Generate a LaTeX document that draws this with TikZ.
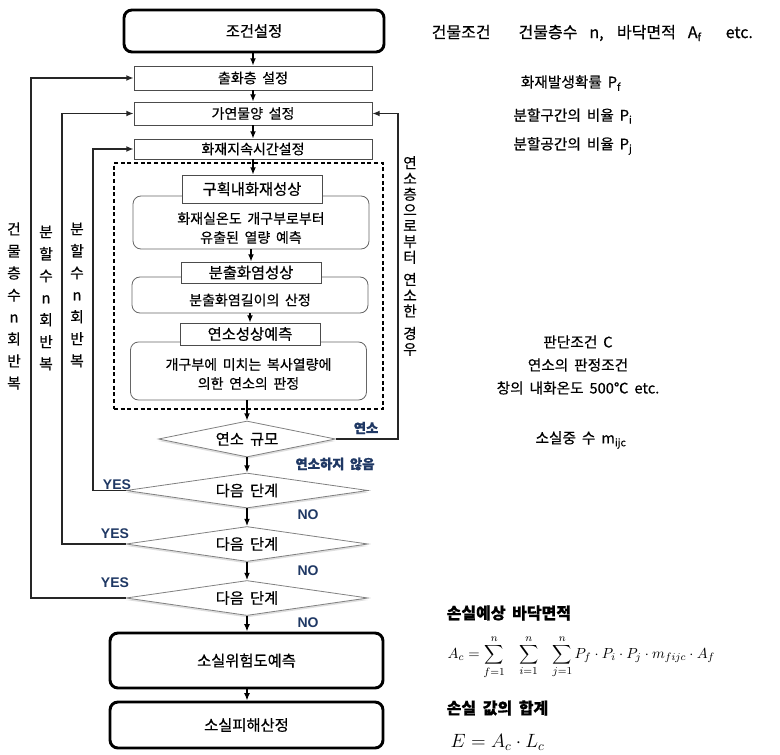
\documentclass[tikz,border=0pt]{standalone}
\usepackage[no-math]{fontspec}
\setmainfont{Noto Sans CJK KR}[WordSpace=1.8,FakeBold=0.5]
\newfontfamily\arialf{Liberation Sans}
\usetikzlibrary{arrows.meta,shapes.geometric,shadows}
\definecolor{navy}{RGB}{31,56,100}
\begin{document}
\begin{tikzpicture}[x=0.75pt,y=-0.75pt,
  arr/.style={line width=1.1pt,-{Latex[length=5.5pt,width=4.5pt]}},
  fb/.style={line width=1.3pt,draw=black!85},
  bigbox/.style={draw,line width=2.2pt,rounded corners=6pt,fill=white,inner sep=0pt,font=\fontsize{11.5}{13}\selectfont},
  stepbox/.style={draw=black!70,line width=0.6pt,fill=white,inner sep=0pt,minimum width=178.5pt,
     drop shadow={shadow xshift=1pt,shadow yshift=-1pt,fill=black!30},font=\fontsize{10.5}{12}\selectfont},
  tagbox/.style={draw=black!70,line width=0.6pt,fill=white,inner sep=0pt,minimum width=105pt,
     drop shadow={shadow xshift=1pt,shadow yshift=-1pt,fill=black!30},font=\fontsize{11.5}{13}\selectfont},
  softbox/.style={draw=black!60,line width=0.6pt,rounded corners=6pt,fill=white,inner sep=0pt,minimum width=177pt},
  intext/.style={align=center,font=\fontsize{10.5}{14.25}\selectfont},
  dia/.style={diamond,aspect=5,draw=black!50,line width=0.6pt,fill=white,inner sep=0pt,
     drop shadow={shadow xshift=0pt,shadow yshift=-1.5pt,fill=black!25},font=\fontsize{11.5}{13}\selectfont},
  lbl/.style={text=navy,font=\arialf\bfseries\fontsize{10.5}{12}\selectfont},
  klbl/.style={text=navy,font=\bfseries\fontsize{10}{12}\selectfont},
  vtext/.style={align=center,font=\fontsize{11}{16.5}\selectfont},
  rtext/.style={font=\fontsize{11}{13}\selectfont},
  rhead/.style={anchor=west,font=\bfseries\fontsize{12}{14}\selectfont}
]
\useasboundingbox (0,0) rectangle (780,755);

% top
\node[bigbox,minimum width=195pt,minimum height=31.5pt] (c0) at (254,31) {조건설정};
\node[stepbox,minimum height=18pt] (s1) at (253,78) {출화층 설정};
\node[stepbox,minimum height=17.25pt] (s2) at (253,113.5) {가연물양 설정};
\node[stepbox,minimum height=15pt] (s3) at (253,149) {화재지속시간설정};

% dashed region
\node[draw,dashed,dash pattern=on 3pt off 2pt,line width=1.1pt,inner sep=0pt,
      minimum width=201.75pt,minimum height=184.5pt] (dbox) at (248.5,286) {};
\node[softbox,minimum height=39.75pt] (b1) at (251,222.5) {};
\node[tagbox,minimum height=21pt] (t1) at (252,189) {구획내화재성상};
\node[intext] (b1t) at (251,228) {화재실온도 개구부로부터\\유출된 열량 예측};
\node[softbox,minimum height=27pt] (b2) at (250,295) {};
\node[tagbox,minimum height=15.75pt] (t2) at (251,272.5) {분출화염성상};
\node[intext] (b2t) at (250,300) {분출화염길이의 산정};
\node[softbox,minimum height=43.5pt] (b3) at (248.5,371) {};
\node[tagbox,minimum height=16.5pt] (t3) at (250,334) {연소성상예측};
\node[intext] (b3t) at (248.5,374) {개구부에 미치는 복사열량에\\의한 연소의 판정};

% decisions
\node[dia,minimum width=132.75pt,minimum height=27pt] (d0) at (247,439) {연소 규모};
\node[dia,minimum width=181.5pt,minimum height=26.25pt] (d1) at (247,490.5) {다음 단계};
\node[dia,minimum width=181.5pt,minimum height=26.25pt] (d2) at (247,544) {다음 단계};
\node[dia,minimum width=181.5pt,minimum height=26.25pt] (d3) at (247,598) {다음 단계};

% bottom
\node[bigbox,minimum width=204.75pt,minimum height=41.25pt] (e1) at (246.5,660.5) {소실위험도예측};
\node[bigbox,minimum width=204.75pt,minimum height=34.5pt] (e2) at (246.5,725) {소실피해산정};

% main arrows
\draw[arr] (c0.south -| s1.north) -- (s1.north);
\draw[arr] (s1.south) -- (s2.north);
\draw[arr] (s2.south) -- (s3.north);
\draw[arr] (s3.south) -- (s3.south |- t1.north);
\draw[arr] (b1.south) -- (b1.south |- t2.north);
\draw[arr] (b2.south) -- (b2.south |- t3.north);
\draw[arr] (d0.north |- b3.south) -- (d0.north);
\draw[arr] (d0.south) -- (d1.north);
\draw[arr] (d1.south) -- (d2.north);
\draw[arr] (d2.south) -- (d3.north);
\draw[arr] (d3.south) -- (d3.south |- e1.north);
\draw[arr] (e1.south -| d3.south) -- (e2.north -| d3.south);

% feedback
\coordinate (xr) at (398,0);
\coordinate (xl1) at (93,0);
\coordinate (xl2) at (62,0);
\coordinate (xl3) at (31,0);
\draw[fb,arr] (d0.east) -- (d0.east -| xr) |- (s2.east);
\draw[fb,arr] (d1.west) -- (d1.west -| xl1) |- (s3.west);
\draw[fb,arr] (d2.west) -- (d2.west -| xl2) |- (s2.west);
\draw[fb,arr] (d3.west) -- (d3.west -| xl3) |- (s1.west);

% flow labels
\node[klbl] (ly) at (366,428) {연소};
\node[klbl] (ln) at (335,464) {연소하지 않음};
\node[lbl] (y1) at (117,485) {YES};
\node[lbl] (y2) at (115,534) {YES};
\node[lbl] (y3) at (115,583) {YES};
\node[lbl] (n1) at (308,515) {NO};
\node[lbl] (n2) at (308,571) {NO};
\node[lbl] (n3) at (308,623) {NO};

% vertical texts
\node[vtext] (v1) at (14,306) {건\\물\\층\\수\\n\\회\\반\\복};
\node[vtext] (v2) at (46,298) {분\\할\\수\\n\\회\\반\\복};
\node[vtext] (v3) at (77,295) {분\\할\\수\\n\\회\\반\\복};
\node[align=center,font=\fontsize{11}{11.8}\selectfont] (v4) at (410,256)
  {연\\소\\층\\으\\로\\부\\터\\[5pt]연\\소\\한\\[5pt]경\\우};

% right-hand notes
\node[anchor=west,font=\fontsize{12}{14}\selectfont] (r0) at (427,33)
  {건물조건\hspace{21pt}건물층수\hspace{9pt}n,\hspace{10pt}바닥면적\hspace{9pt}A\textsubscript{f}\hspace{18pt}etc.};
\node[rtext] (r1) at (571,83) {화재발생확률 P\textsubscript{f}};
\node[rtext] (r2) at (573,116) {분할구간의 비율 P\textsubscript{i}};
\node[rtext] (r3) at (573,146) {분할공간의 비율 P\textsubscript{j}};
\node[rtext,align=center,font=\fontsize{11}{17.25}\selectfont] (r4) at (578,365)
  {판단조건 C\\연소의 판정조건\\창의 내화온도 500℃ etc.};
\node[rtext] (r5) at (581,440) {소실중 수 m\textsubscript{ijc}};
\node[rhead] (r6) at (442,613) {손실예상 바닥면적};
\node[anchor=west,font=\fontsize{11}{13}\selectfont] (r7) at (443,657)
  {$\displaystyle A_c=\sum_{f=1}^{n}\ \ \sum_{i=1}^{n}\ \ \sum_{j=1}^{n}P_f\cdot P_i\cdot P_j\cdot m_{fijc}\cdot A_f$};
\node[rhead] (r8) at (442,708) {손실 값의 합계};
\node[anchor=west,font=\fontsize{14}{16}\selectfont] (r9) at (446,742) {$E=A_c\cdot L_c$};
\end{tikzpicture}
\end{document}
